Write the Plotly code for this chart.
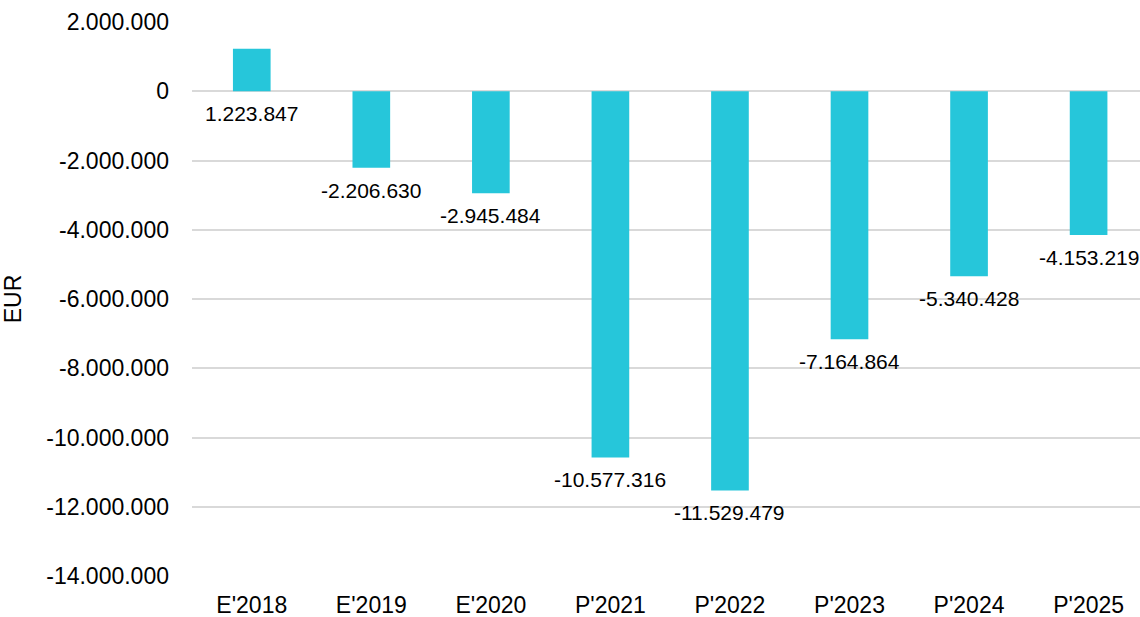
import plotly.graph_objects as go

categories = ["E'2018", "E'2019", "E'2020", "P'2021", "P'2022", "P'2023", "P'2024", "P'2025"]
values = [1223847, -2206630, -2945484, -10577316, -11529479, -7164864, -5340428, -4153219]
tick_vals = [2000000, 0, -2000000, -4000000, -6000000, -8000000, -10000000, -12000000, -14000000]


def fmt(v):
    s = f"{abs(v):,}".replace(",", ".")
    return ("-" if v < 0 else "") + s


tick_text = [fmt(v) for v in tick_vals]

FONT = "Liberation Sans, Arial, sans-serif"

fig = go.Figure()
fig.add_trace(go.Bar(
    x=categories, y=values, marker=dict(color="#26C6DA", line=dict(width=0)),
    width=0.315, hoverinfo="skip",
))

for c, v in zip(categories, values):
    fig.add_annotation(
        x=c, y=min(v, 0), text=fmt(v), showarrow=False,
        yanchor="top", yshift=-9,
        font=dict(family=FONT, size=21, color="#000000"),
    )

fig.update_layout(
    width=1140, height=617,
    margin=dict(l=192, r=0, t=22, b=41),
    paper_bgcolor="white", plot_bgcolor="white",
    showlegend=False,
    font=dict(family=FONT, size=23, color="#000000"),
    xaxis=dict(showgrid=False, showline=False, ticks="", tickfont=dict(size=23),
               range=[-0.5, 7.43], ticklabelstandoff=13, automargin=False),
    yaxis=dict(range=[-14000000, 2000000], tickvals=tick_vals, ticktext=tick_text,
               showgrid=True, gridcolor="#D9D9D9", gridwidth=2, zeroline=False,
               showline=False, ticks="", ticklabelstandoff=22, tickfont=dict(size=23),
               automargin=False,
               title=dict(text="EUR", font=dict(size=23), standoff=22)),
)

fig.write_html("out.html", config={"displayModeBar": False},
               post_script="document.body.style.margin='0';")
